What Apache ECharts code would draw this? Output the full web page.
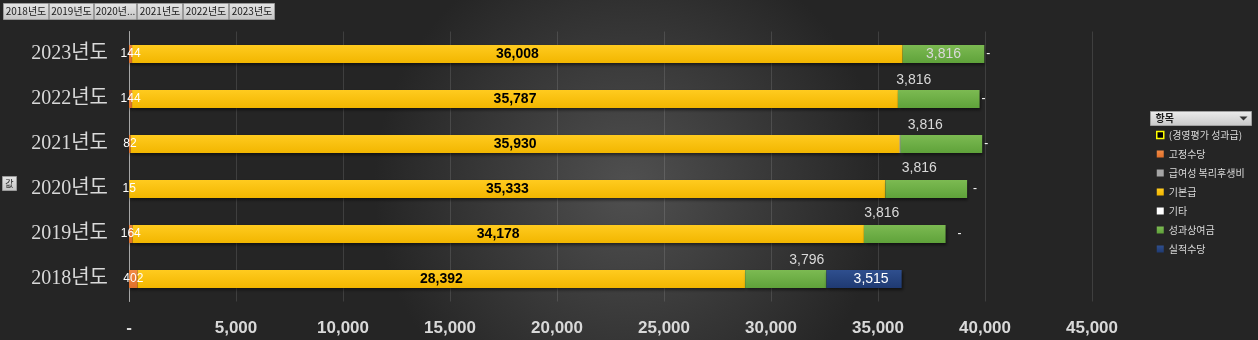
<!DOCTYPE html>
<html>
<head>
<meta charset="utf-8">
<script src="https://cdn.jsdelivr.net/npm/echarts@6/dist/echarts.min.js"></script>
<style>
  html, body { margin: 0; padding: 0; background: #2b2b2b; }
  #chart { width: 1258px; height: 340px; }
</style>
</head>
<body>
<div id="chart"></div>
<script>
// Categories (bottom to top) and the pay items stacked in each bar
const years = ['2018년도', '2019년도', '2020년도', '2021년도', '2022년도', '2023년도'];
const fixedAllowance   = [402, 164, 15, 82, 144, 144];               // 고정수당
const welfarePay       = [0, 0, 0, 0, 0, 0];                         // 급여성 복리후생비
const basePay          = [28392, 34178, 35333, 35930, 35787, 36008]; // 기본급
const otherPay         = [0, 0, 0, 40, 0, 0];                        // 기타
const performanceBonus = [3796, 3816, 3816, 3816, 3816, 3816];       // 성과상여금
const resultAllowance  = [3515, 0, 0, 0, 0, 0];                      // 실적수당
const evalBonus        = [null, 0, 0, 0, 0, 0];                      // (경영평가 성과급)
const legendOrder = ['(경영평가 성과급)', '고정수당', '급여성 복리후생비', '기본급', '기타', '성과상여금', '실적수당'];
const sliceButtons = ['2018년도', '2019년도', '2020년...', '2021년도', '2022년도', '2023년도'];

const fmt = v => Number(v).toLocaleString('en-US');
const labelGray = '#d9d9d9';
const vGrad = (top, bottom) => new echarts.graphic.LinearGradient(0, 0, 0, 1, [
  { offset: 0, color: top }, { offset: 1, color: bottom }
]);
const shadow = { shadowBlur: 3, shadowColor: 'rgba(0,0,0,0.55)', shadowOffsetX: 1, shadowOffsetY: 2 };

// placement of the 성과상여금 labels per year
const bonusLabelPlacement = [
  { position: 'top', offset: [21, 2] },
  { position: 'top', offset: [-23, 0] },
  { position: 'top', offset: [-7, 0] },
  { position: 'top', offset: [-16, 2] },
  { position: 'top', offset: [-25, 2] },
  { position: 'inside', offset: [0, 0] }
];
// gap between bar end and the "-" mark per year
const dashDistance = [0, 12, 6, 2, 2, 2];

const chart = echarts.init(document.getElementById('chart'), null, { renderer: 'canvas' });

const series = [
  {
    name: '고정수당', type: 'bar', stack: 'total', barWidth: 18,
    itemStyle: Object.assign({ color: vGrad('#f28a45', '#e0702a') }, shadow),
    label: { show: true, position: 'inside', color: '#ffffff', fontSize: 12,
      fontFamily: 'Liberation Sans, Arial', formatter: p => p.value ? fmt(p.value) : '' },
    data: fixedAllowance
  },
  {
    name: '급여성 복리후생비', type: 'bar', stack: 'total',
    itemStyle: { color: '#a5a5a5' }, data: welfarePay
  },
  {
    name: '기본급', type: 'bar', stack: 'total',
    itemStyle: Object.assign({ color: vGrad('#ffcb1f', '#f2b600') }, shadow),
    label: { show: true, position: 'inside', color: '#000000', fontSize: 14, fontWeight: 'bold',
      fontFamily: 'Liberation Sans, Arial', formatter: p => fmt(p.value) },
    data: basePay
  },
  {
    name: '기타', type: 'bar', stack: 'total',
    itemStyle: { color: '#ffffff' }, data: otherPay
  },
  {
    name: '성과상여금', type: 'bar', stack: 'total',
    itemStyle: Object.assign({ color: vGrad('#7cba52', '#5fa23a') }, shadow),
    label: { show: true, color: labelGray, fontSize: 14, fontFamily: 'Liberation Sans, Arial',
      formatter: p => fmt(p.value) },
    data: performanceBonus.map((v, i) => ({ value: v, label: bonusLabelPlacement[i] }))
  },
  {
    name: '실적수당', type: 'bar', stack: 'total',
    itemStyle: Object.assign({ color: vGrad('#2f4f8e', '#1f3a72') }, shadow),
    label: { show: true, position: 'insideRight', offset: [-8, 0], color: '#ffffff', fontSize: 14,
      fontFamily: 'Liberation Sans, Arial', formatter: p => p.value ? fmt(p.value) : '' },
    data: resultAllowance
  },
  {
    name: '(경영평가 성과급)', type: 'bar', stack: 'total',
    itemStyle: { color: '#000000' },
    label: { show: true, position: 'right', color: '#ffffff', fontSize: 12,
      fontFamily: 'Liberation Sans, Arial', formatter: p => p.value === 0 ? '-' : '' },
    data: evalBonus.map((v, i) => ({ value: v, label: { distance: dashDistance[i] } }))
  }
];

// slicer-style buttons along the top edge and small helper boxes
const buttonW = [45, 44, 42, 45, 45, 45];
const graphics = [];
let bx = 3;
sliceButtons.forEach((t, i) => {
  graphics.push({
    type: 'group', left: bx, top: 3,
    children: [
      { type: 'rect', shape: { x: 0, y: 0, width: buttonW[i], height: 16 },
        style: { fill: vGrad('#e6e6e6', '#c4c4c4'), stroke: '#9a9a9a', lineWidth: 1 } },
      { type: 'text', x: buttonW[i] / 2, y: 8,
        style: { text: t, fill: '#1a1a1a', font: '10px "Noto Sans CJK KR", sans-serif', align: 'center', verticalAlign: 'middle' } }
    ]
  });
  bx += buttonW[i] + 1;
});
graphics.push({
  type: 'group', left: 2, top: 176,
  children: [
    { type: 'rect', shape: { x: 0, y: 0, width: 14, height: 14 },
      style: { fill: vGrad('#e6e6e6', '#c4c4c4'), stroke: '#9a9a9a' } },
    { type: 'text', x: 7, y: 7,
      style: { text: '값', fill: '#1a1a1a', font: '9px "Noto Sans CJK KR", sans-serif', align: 'center', verticalAlign: 'middle' } }
  ]
});
graphics.push({
  type: 'group', left: 1150, top: 111,
  children: [
    { type: 'rect', shape: { x: 0, y: 0, width: 101, height: 14 },
      style: { fill: vGrad('#ececec', '#c8c8c8'), stroke: '#a0a0a0' } },
    { type: 'text', x: 5, y: 7,
      style: { text: '항목', fill: '#1a1a1a', font: 'bold 10px "Noto Sans CJK KR", sans-serif', verticalAlign: 'middle' } },
    { type: 'polygon', shape: { points: [[89, 5], [97, 5], [93, 9]] }, style: { fill: '#333333' } }
  ]
});

chart.setOption({
  animation: false,
  backgroundColor: new echarts.graphic.RadialGradient(0.5, 0.55, 0.75, [
    { offset: 0, color: '#505050' }, { offset: 1, color: '#252525' }
  ]),
  grid: { left: 129, right: 166, top: 31.5, bottom: 38.5 },
  legend: {
    orient: 'vertical', left: 1156, top: 128, padding: 0,
    itemWidth: 7, itemHeight: 7, itemGap: 5, icon: 'rect',
    textStyle: { color: labelGray, fontSize: 10, lineHeight: 14, fontFamily: '"Noto Sans CJK KR", sans-serif' },
    data: legendOrder.map(n => n === '(경영평가 성과급)'
      ? { name: n, itemStyle: { color: '#000000', borderColor: '#ffff00', borderWidth: 1.5 } }
      : { name: n })
  },
  xAxis: {
    type: 'value', min: 0, max: 45000, interval: 5000,
    axisLine: { show: false }, axisTick: { show: false },
    splitLine: { show: true, lineStyle: { color: 'rgba(255,255,255,0.12)', width: 1 } },
    axisLabel: { color: labelGray, fontSize: 17, fontWeight: 'bold', margin: 18,
      fontFamily: 'Liberation Sans, Arial', formatter: v => v === 0 ? '-' : fmt(v) }
  },
  yAxis: {
    type: 'category', data: years,
    axisLine: { show: true, lineStyle: { color: '#a6a6a6', width: 1 } },
    axisTick: { show: false },
    axisLabel: { color: labelGray, fontSize: 20, margin: 21,
      fontFamily: '"Liberation Serif", "Noto Sans CJK KR", serif' }
  },
  graphic: graphics,
  series: series
});
</script>
</body>
</html>
